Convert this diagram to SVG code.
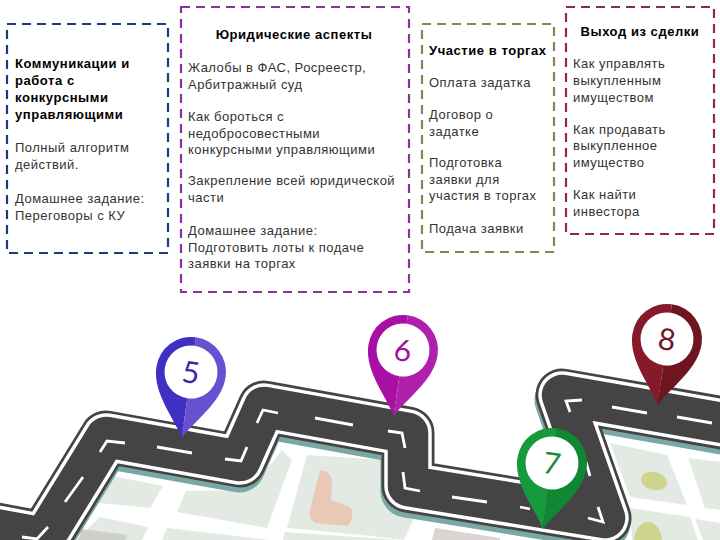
<svg xmlns="http://www.w3.org/2000/svg" width="720" height="540" viewBox="0 0 720 540">
<style>
text{font-family:"Liberation Sans",Arial,sans-serif;font-size:13px;fill:#333;letter-spacing:.48px}
.b{font-weight:700;fill:#000;letter-spacing:.55px}
.box{fill:none;stroke-width:2.2;stroke-dasharray:9 6}
.rd{fill:none;stroke-linejoin:round}
.dash{fill:none;stroke:#fff;stroke-width:2.8}
.blk{fill:#e3e9e3}
.num{font-family:"Lato","Open Sans",sans-serif;font-size:30px;font-weight:400;text-anchor:middle;letter-spacing:0}
</style>
<defs>
<path id="road" d="M-20,526 L44,538 L106,437 L240,461 L264,407 L408,433 L408,486 L605,518 L562,395 L740,426"/>
<path id="pinL" d="M0,67 C-8,50 -35,27 -35,0 A35,35 0 0 1 0,-35 Z"/>
<path id="pinR" d="M0,67 C8,50 35,27 35,0 A35,35 0 0 0 0,-35 Z"/>
</defs>
<rect width="720" height="540" fill="#fff"/>
<g id="map">
<polygon class="blk" points="112,476 163,486 150,508 100,503 82,510"/>
<polygon class="blk" points="186,491 250,490 282,450 292,460 267,528 177,512"/>
<polygon class="blk" points="307,455 385,460 390,505 413,520 404,540 362,535 287,528"/>
<path d="M320,471 C328,470 332,475 332,485 L331,500 L350,507 C354,510 353,522 347,526 L316,523 C310,520 308,515 310,510 Z" fill="#e9c9b5"/>
<polygon class="blk" points="100,517 148,527 142,540 76,540"/>
<polygon fill="#cfcfcc" points="82,529 127,535 125,540 78,540"/>
<polygon class="blk" points="167,528 270,540 162,540"/>
<polygon class="blk" points="285,532 400,540 283,540"/>
<polygon fill="#dcd3d3" points="435,528 500,538 500,540 432,540"/>
<polygon class="blk" points="610,443 667,455 687,505 630,497"/>
<polygon class="blk" points="688,458 720,462 720,510 705,508"/>
<polygon class="blk" points="630,508 690,517 698,540 632,540"/>
<polygon class="blk" points="695,519 720,523 720,540 703,540"/>
<ellipse cx="654" cy="481" rx="13" ry="9" transform="rotate(12 654 481)" fill="#cdd58c"/>
<ellipse cx="648" cy="542" rx="14" ry="20" fill="#cdd58c"/>
</g>
<g id="road-strip">
<use href="#road" class="rd" stroke="#7aa8a5" stroke-width="53" transform="translate(-1,5)"/>
<use href="#road" class="rd" stroke="#444" stroke-width="53"/>
<use href="#road" class="rd" stroke="#fff" stroke-width="47.5"/>
<use href="#road" class="rd" stroke="#444" stroke-width="40.5"/>
<path class="dash" d="M22,537 L37,539 L48,527 M65,502 L83,477 M100,452 L107,441 L125,443 M157,447 L192,453 M225,459 L241,461 L247,447 M257,423 L263,410 L278,413 M315,418 L353,425 M388,431 L402,433 L405,448 M403,472 L405,488 L420,491 M452,497 L487,502 M520,507 L530,509 M588,518 L603,522 L598,507 M570,412 L566,401 L582,400 M612,407 L647,413 M677,417 L712,423 M586,462 L590,476"/>
</g>
<g id="box-1">
<rect class="box" x="7" y="24" width="161" height="229" stroke="#1f3a80"/>
<text class="b" x="15" y="68">Коммуникации и</text>
<text class="b" x="15" y="85">работа с</text>
<text class="b" x="15" y="102">конкурсными</text>
<text class="b" x="15" y="119">управляющими</text>
<text x="15" y="152">Полный алгоритм</text>
<text x="15" y="169">действий.</text>
<text x="15" y="203">Домашнее задание:</text>
<text x="15" y="220">Переговоры с КУ</text>
</g>
<g id="box-2">
<rect class="box" x="181" y="7" width="228" height="285" stroke="#8e2fa8"/>
<text class="b" x="294" y="39" text-anchor="middle">Юридические аспекты</text>
<text x="188" y="72">Жалобы в ФАС, Росреестр,</text>
<text x="188" y="89">Арбитражный суд</text>
<text x="188" y="121">Как бороться с</text>
<text x="188" y="138">недобросовестными</text>
<text x="188" y="154">конкурсными управляющими</text>
<text x="188" y="185">Закрепление всей юридической</text>
<text x="188" y="202">части</text>
<text x="188" y="235">Домашнее задание:</text>
<text x="188" y="252">Подготовить лоты к подаче</text>
<text x="188" y="268">заявки на торгах</text>
</g>
<g id="box-3">
<rect class="box" x="422" y="24" width="132" height="228" stroke="#7f8a50"/>
<text class="b" x="429" y="55">Участие в торгах</text>
<text x="429" y="87">Оплата задатка</text>
<text x="429" y="119">Договор о</text>
<text x="429" y="136">задатке</text>
<text x="429" y="167">Подготовка</text>
<text x="429" y="184">заявки для</text>
<text x="429" y="200">участия в торгах</text>
<text x="429" y="233">Подача заявки</text>
</g>
<g id="box-4">
<rect class="box" x="566" y="7" width="148" height="227" stroke="#8f2a4e"/>
<text class="b" x="640" y="36" text-anchor="middle">Выход из сделки</text>
<text x="573" y="68">Как управлять</text>
<text x="573" y="85">выкупленным</text>
<text x="573" y="102">имуществом</text>
<text x="573" y="134">Как продавать</text>
<text x="573" y="150">выкупленное</text>
<text x="573" y="167">имущество</text>
<text x="573" y="199">Как найти</text>
<text x="573" y="216">инвестора</text>
</g>
<g id="pin-5" transform="translate(191,372) rotate(8)">
<use href="#pinL" fill="#3f2fc2"/><use href="#pinR" fill="#6751d0"/>
<circle r="26.5" fill="#fff"/>
<text class="num" y="11" style="fill:#3a2aa8">5</text>
</g>
<g id="pin-6" transform="translate(403,350) rotate(8)">
<use href="#pinL" fill="#a80fa3"/><use href="#pinR" fill="#b120ad"/>
<circle r="26.5" fill="#fff"/>
<text class="num" y="11" style="fill:#a212a0">6</text>
</g>
<g id="pin-7" transform="translate(552,463) rotate(8)">
<use href="#pinL" fill="#169a3c"/><use href="#pinR" fill="#0f8733"/>
<circle r="26.5" fill="#fff"/>
<text class="num" y="11" style="fill:#16893a">7</text>
</g>
<g id="pin-8" transform="translate(667,339) rotate(8)">
<use href="#pinL" fill="#861a2b"/><use href="#pinR" fill="#6f1522"/>
<circle r="26.5" fill="#fff"/>
<text class="num" y="11" style="fill:#6f1630">8</text>
</g>
</svg>
